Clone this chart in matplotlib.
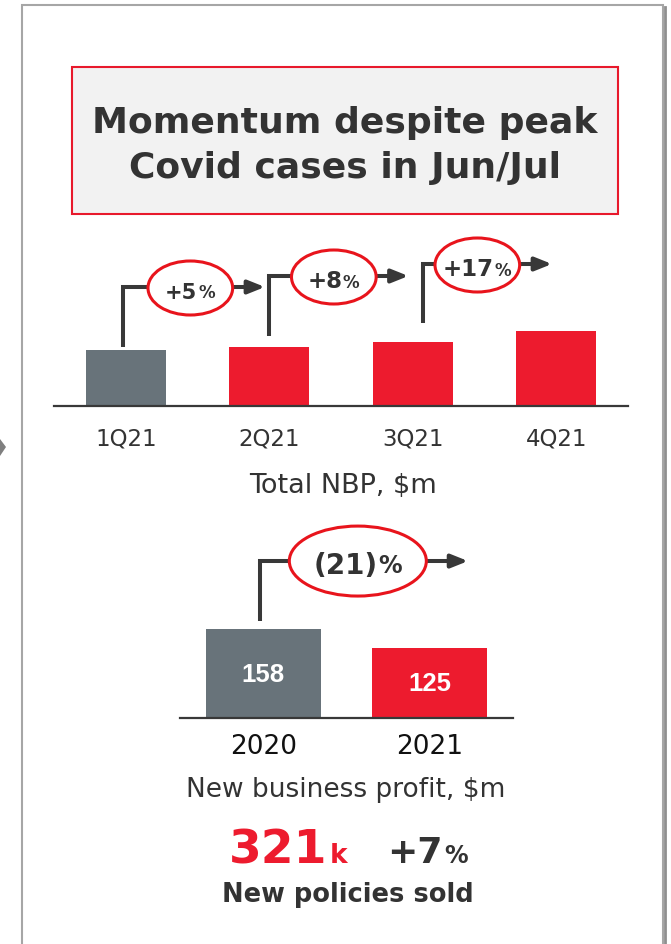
import matplotlib
matplotlib.use("Agg")
import matplotlib.pyplot as plt
from matplotlib.patches import Rectangle, Ellipse, Polygon

# data
quarters = ["1Q21", "2Q21", "3Q21", "4Q21"]
nbp = [56, 59, 64, 75]               # bar heights (relative)
nbp_colors = ["#68737a", "#ed1b2e", "#ed1b2e", "#ed1b2e"]
qoq_growth = ["+5", "+8", "+17"]

years = ["2020", "2021"]
nb_profit = [158, 125]
nb_colors = ["#68737a", "#ed1b2e"]
yoy_growth = "(21)"

policies = "321"
policies_growth = "+7"

W, H = 671, 945
DARK = "#383838"
TEXT = "#333333"
RED = "#ed1b2e"
RING = "#e8141c"


def fx(x):
    return x / W


def fy(y):
    return 1 - y / H


def pct_label(ax, x, y, num, s_num, s_pct, dx, dy):
    t = ax.annotate(num, (x, y), xytext=(dx, dy), textcoords="offset points",
                    ha="center", va="baseline", fontsize=s_num,
                    fontweight="bold", color=TEXT, zorder=5)
    ax.annotate("%", xy=(1, 0), xycoords=t, xytext=(0.5, 1),
                textcoords="offset points", ha="left", va="bottom",
                fontsize=s_pct, fontweight="bold", color=TEXT, zorder=5)


def step_arrow(ax, vx, y0, lvl, tip):
    ax.plot([vx, vx, tip - 0.08 * (tip - vx)], [y0, lvl, lvl], color=DARK,
            lw=2.9, solid_joinstyle="miter", solid_capstyle="butt", zorder=2)
    ax.annotate("", xy=(tip, lvl), xytext=(tip - 0.1 * (tip - vx), lvl),
                arrowprops=dict(arrowstyle="-|>,head_length=1.0,head_width=0.4",
                                color=DARK, lw=2.9, shrinkA=0, shrinkB=0),
                zorder=2)


fig = plt.figure(figsize=(W / 100, H / 100), dpi=100)

# panel frame
fig.patches.append(Rectangle((fx(22), fy(960)), fx(641), (960 - 6) / H,
                             transform=fig.transFigure, fill=False,
                             ec="#a6a6a6", lw=1.5))
fig.add_artist(plt.Line2D([fx(665), fx(665)], [fy(8), 0], color="#8f8f8f",
                          lw=2, transform=fig.transFigure))
fig.patches.append(Polygon([(fx(0), fy(440)), (fx(6), fy(448)), (fx(0), fy(457))],
                           closed=True, transform=fig.transFigure, fc="#7f7f7f",
                           ec="none"))

# title box
fig.patches.append(Rectangle((fx(72), fy(215)), fx(546), (215 - 68) / H,
                             transform=fig.transFigure, fc="#f2f2f2",
                             ec="#e8192c", lw=1.5))
fig.text(fx(345), fy(133), "Momentum despite peak", ha="center", va="baseline",
         fontsize=26, fontweight="bold", color=TEXT)
fig.text(fx(345), fy(178), "Covid cases in Jun/Jul", ha="center", va="baseline",
         fontsize=26, fontweight="bold", color=TEXT)

# top chart: total NBP
ax1 = fig.add_axes([fx(54), fy(407), fx(574), 180 / H])
ax1.bar(range(len(quarters)), nbp, width=0.557, color=nbp_colors, zorder=1)
ax1.set_xlim(-0.5, 3.5)
ax1.set_ylim(0, 180)
ax1.set_xticks(range(len(quarters)), quarters)
ax1.tick_params(axis="x", length=0, pad=15, labelsize=16.5, labelcolor=TEXT)
ax1.set_yticks([])
for s in ["top", "left", "right"]:
    ax1.spines[s].set_visible(False)
ax1.spines["bottom"].set_color(DARK)
ax1.spines["bottom"].set_linewidth(1.6)

vxs = [-0.02, 0.0, 0.07]
starts = [59, 70, 83]
levels = [119, 130, 142]
num_sizes = [15, 16.5, 16.5]
for i, g in enumerate(qoq_growth):
    step_arrow(ax1, i + vxs[i], starts[i], levels[i], i + 0.97)
    cx, cy = i + 0.45, levels[i] - 1
    ax1.add_patch(Ellipse((cx, cy), 0.59, 54, fc="white", ec=RING, lw=2.2,
                          zorder=3, clip_on=False))
    pct_label(ax1, cx, cy, g, num_sizes[i], 12, -6.5, -7.5)

fig.text(fx(343), fy(486), "Total NBP, $m", ha="center", va="center",
         fontsize=19.5, color=TEXT)

# bottom chart: new business profit
ax2 = fig.add_axes([fx(180), fy(719), fx(333), 200 / H])
ax2.bar(range(len(years)), nb_profit, width=0.69, color=nb_colors, zorder=1)
ax2.set_xlim(-0.5, 1.5)
ax2.set_ylim(0, 200 / 0.5625)
ax2.set_xticks(range(len(years)), years)
ax2.tick_params(axis="x", length=0, pad=11, labelsize=19, labelcolor="#111111")
ax2.set_yticks([])
for s in ["top", "left", "right"]:
    ax2.spines[s].set_visible(False)
ax2.spines["bottom"].set_color(DARK)
ax2.spines["bottom"].set_linewidth(1.6)
for i, v in enumerate(nb_profit):
    ax2.text(i, v / 2, str(v), ha="center", va="center", color="white",
             fontsize=18.5, fontweight="bold", family="Liberation Sans")

step_arrow(ax2, -0.02, 172, 279, 1.23)
ax2.add_patch(Ellipse((0.568, 279), 0.823, 124.4, fc="white", ec=RING, lw=2.2,
                      zorder=3, clip_on=False))
pct_label(ax2, 0.568, 279, yoy_growth, 20, 17, -9, -8.5)

fig.text(fx(346), fy(790), "New business profit, $m", ha="center", va="center",
         fontsize=19, color=TEXT)

# policies
fig.text(fx(229), fy(863), policies, ha="left", va="baseline", fontsize=34,
         fontweight="bold", color=RED)
fig.text(fx(330), fy(863), "k", ha="left", va="baseline", fontsize=19,
         fontweight="bold", color=RED)
fig.text(fx(387), fy(863), policies_growth, ha="left", va="baseline",
         fontsize=26, fontweight="bold", color=TEXT)
fig.text(fx(444), fy(863), "%", ha="left", va="baseline", fontsize=17,
         fontweight="bold", color=TEXT)
fig.text(fx(348), fy(902), "New policies sold", ha="center", va="baseline",
         fontsize=18.5, fontweight="bold", color=TEXT)

fig.savefig("out.png", dpi=100)
